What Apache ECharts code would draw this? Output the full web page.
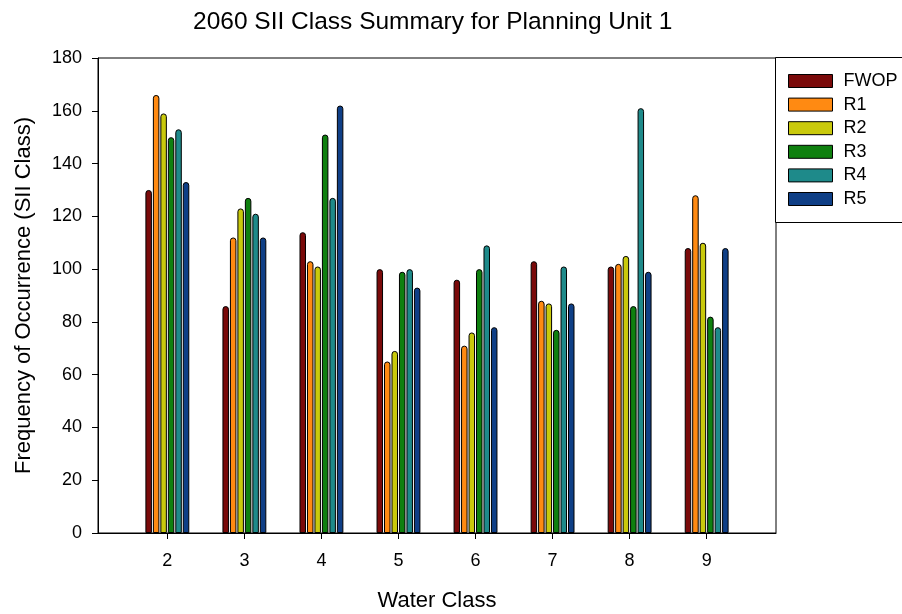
<!DOCTYPE html>
<html lang="en">
<head>
  <meta charset="UTF-8">
  <title>2060 SII Class Summary</title>
  <script src="https://cdn.jsdelivr.net/npm/echarts@6/dist/echarts.min.js"></script>
  <style>
    body { margin: 0; background: #fff; }
  </style>
</head>
<body>
  <div id="main" style="width:902px;height:614px"></div>
  <script>
    var waterClass = [2, 3, 4, 5, 6, 7, 8, 9]
    var seriesNames = ['FWOP', 'R1', 'R2', 'R3', 'R4', 'R5']
    var fwop = [130, 86, 114, 100, 96, 103, 101, 108]
    var r1 = [166, 112, 103, 65, 71, 88, 102, 128]
    var r2 = [159, 123, 101, 69, 76, 87, 105, 110]
    var r3 = [150, 127, 151, 99, 100, 77, 86, 82]
    var r4 = [153, 121, 127, 100, 109, 101, 161, 78]
    var r5 = [133, 112, 162, 93, 78, 87, 99, 108]
    var colors = ['#7a0a0a', '#ff8a12', '#c9c90c', '#0f800f', '#1e8a8a', '#0f3f86']

    var allValues = [fwop, r1, r2, r3, r4, r5]
    var font = 'Liberation Sans, Arial, sans-serif'

    var series = []
    for (var i = 0; i < allValues.length; i++) {
      var pts = []
      for (var j = 0; j < waterClass.length; j++) {
        pts.push([waterClass[j], allValues[i][j]])
      }
      series.push({
        name: seriesNames[i],
        type: 'bar',
        data: pts,
        barWidth: 6.5,
        barGap: '15%',
        itemStyle: {
          color: colors[i],
          borderColor: '#000',
          borderWidth: 1,
          borderRadius: [3, 3, 0, 0]
        }
      })
    }

    var myChart = echarts.init(document.getElementById('main'))
    myChart.setOption({
      animation: false,
      backgroundColor: '#fff',
      title: {
        text: '2060 SII Class Summary for Planning Unit 1',
        left: 188,
        top: 5,
        textStyle: { fontFamily: font, fontSize: 24.5, fontWeight: 'normal', color: '#000' }
      },
      graphic: [{
        type: 'rect',
        shape: { x: 775.5, y: 57.5, width: 140, height: 165 },
        style: { fill: '#fff', stroke: '#000', lineWidth: 1 },
        z: 0
      }],
      legend: {
        orient: 'vertical',
        left: 788,
        top: 72,
        padding: 0,
        itemWidth: 44,
        itemHeight: 13,
        itemGap: 5.6,
        icon: 'rect',
        itemStyle: { borderColor: '#000', borderWidth: 1 },
        textStyle: { fontFamily: font, fontSize: 18, color: '#000', padding: [0, 0, 0, 6] },
        data: seriesNames
      },
      grid: {
        left: 98,
        right: 126,
        top: 58,
        bottom: 81,
        outerBoundsMode: 'none',
        show: true,
        borderColor: '#000',
        borderWidth: 1
      },
      xAxis: {
        type: 'value',
        min: 1.1,
        max: 9.9,
        name: 'Water Class',
        nameLocation: 'middle',
        nameGap: 57,
        nameTextStyle: { fontFamily: font, fontSize: 22, color: '#000' },
        axisLine: { lineStyle: { color: '#000', width: 1 } },
        axisTick: { show: true, length: 6, customValues: waterClass, lineStyle: { color: '#000' } },
        axisLabel: { customValues: waterClass, fontFamily: font, fontSize: 18, color: '#000', margin: 19 },
        splitLine: { show: false }
      },
      yAxis: {
        type: 'value',
        min: 0,
        max: 180,
        interval: 20,
        name: 'Frequency of Occurrence (SII Class)',
        nameLocation: 'middle',
        nameGap: 63,
        nameTextStyle: { fontFamily: font, fontSize: 22, color: '#000' },
        axisLine: { show: true, lineStyle: { color: '#000', width: 1 } },
        axisTick: { show: true, length: 6, lineStyle: { color: '#000' } },
        axisLabel: { fontFamily: font, fontSize: 18, color: '#000', margin: 16 },
        splitLine: { show: false }
      },
      series: series
    })
  </script>
</body>
</html>
